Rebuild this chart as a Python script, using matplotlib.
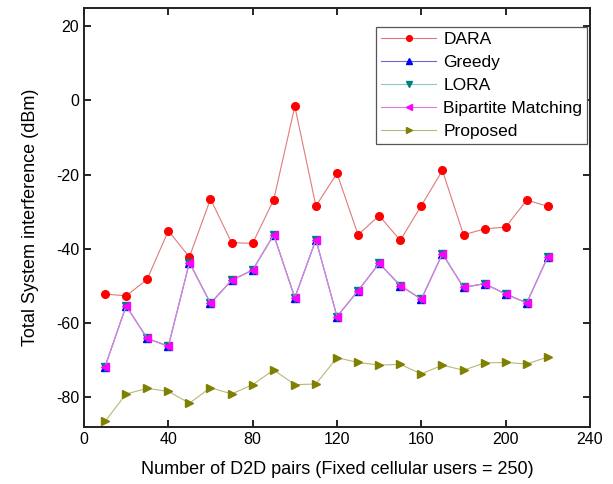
import numpy as np
import matplotlib
matplotlib.use("Agg")
import matplotlib.pyplot as plt

plt.rcParams["font.family"] = ["Liberation Sans", "DejaVu Sans"]
plt.rcParams["axes.unicode_minus"] = False

# data
d2d_pairs = [10, 20, 30, 40, 50, 60, 70, 80, 90, 100, 110,
             120, 130, 140, 150, 160, 170, 180, 190, 200, 210, 220]
dara = [-52.3, -52.8, -48.3, -35.2, -42.3, -26.6, -38.4, -38.6, -26.8, -1.6, -28.5,
        -19.7, -36.3, -31.1, -37.8, -28.4, -18.9, -36.3, -34.7, -34.2, -26.9, -28.6]
bipartite = [-71.9, -55.5, -64.3, -66.4, -43.8, -54.8, -48.6, -45.8, -36.3, -53.3, -37.6,
             -58.4, -51.4, -44.0, -50.0, -53.7, -41.4, -50.5, -49.5, -52.3, -54.7, -42.2]
greedy = list(bipartite)
lora = list(bipartite)
proposed = [-86.7, -79.3, -77.8, -78.6, -81.8, -77.6, -79.3, -76.8, -72.8, -76.8, -76.6,
            -69.5, -70.8, -71.5, -71.3, -73.9, -71.5, -72.9, -70.9, -70.8, -71.2, -69.3]

fig = plt.figure(figsize=(6.13, 4.84), dpi=100)
ax = fig.add_axes([0.137, 0.118, 0.8255, 0.8655])

ms = 5.5
ax.plot(d2d_pairs, dara, "-o", color="#e07a7a", mfc="red", mec="red", lw=0.8, ms=ms, label="DARA")
ax.plot(d2d_pairs, greedy, "-^", color="#6a6ad0", mfc="blue", mec="blue", lw=0.8, ms=ms, label="Greedy")
ax.plot(d2d_pairs, lora, "-v", color="#8cc8c8", mfc="#008080", mec="#008080", lw=0.8, ms=ms, label="LORA")
ax.plot(d2d_pairs, bipartite, "-<", color="#e07ae0", mfc="magenta", mec="magenta", lw=0.8, ms=ms, label="Bipartite Matching")
ax.plot(d2d_pairs, proposed, "->", color="#b8b878", mfc="#808000", mec="#808000", lw=0.8, ms=ms, label="Proposed")

ax.set_xlim(0, 240)
ax.set_ylim(-88.2, 25)
ax.set_xticks(np.arange(0, 241, 40))
ax.set_yticks(np.arange(-80, 21, 20))
ax.tick_params(direction="in", top=True, right=True, length=5, width=1.2, labelsize=11.5)
for s in ax.spines.values():
    s.set_linewidth(1.4)
    s.set_color("#222222")

ax.set_xlabel("Number of D2D pairs (Fixed cellular users = 250)", fontsize=13, labelpad=10)
ax.set_ylabel("Total System interference (dBm)", fontsize=13, labelpad=12)

leg = ax.legend(loc="upper right", bbox_to_anchor=(0.995, 0.955), fontsize=12.5,
                handlelength=3.2, labelspacing=0.45, borderpad=0.3, handletextpad=0.4,
                markerscale=0.75, fancybox=False, framealpha=1, borderaxespad=0)
leg.get_frame().set_edgecolor("#555555")
leg.get_frame().set_linewidth(0.9)

fig.savefig("out.png", dpi=100)
